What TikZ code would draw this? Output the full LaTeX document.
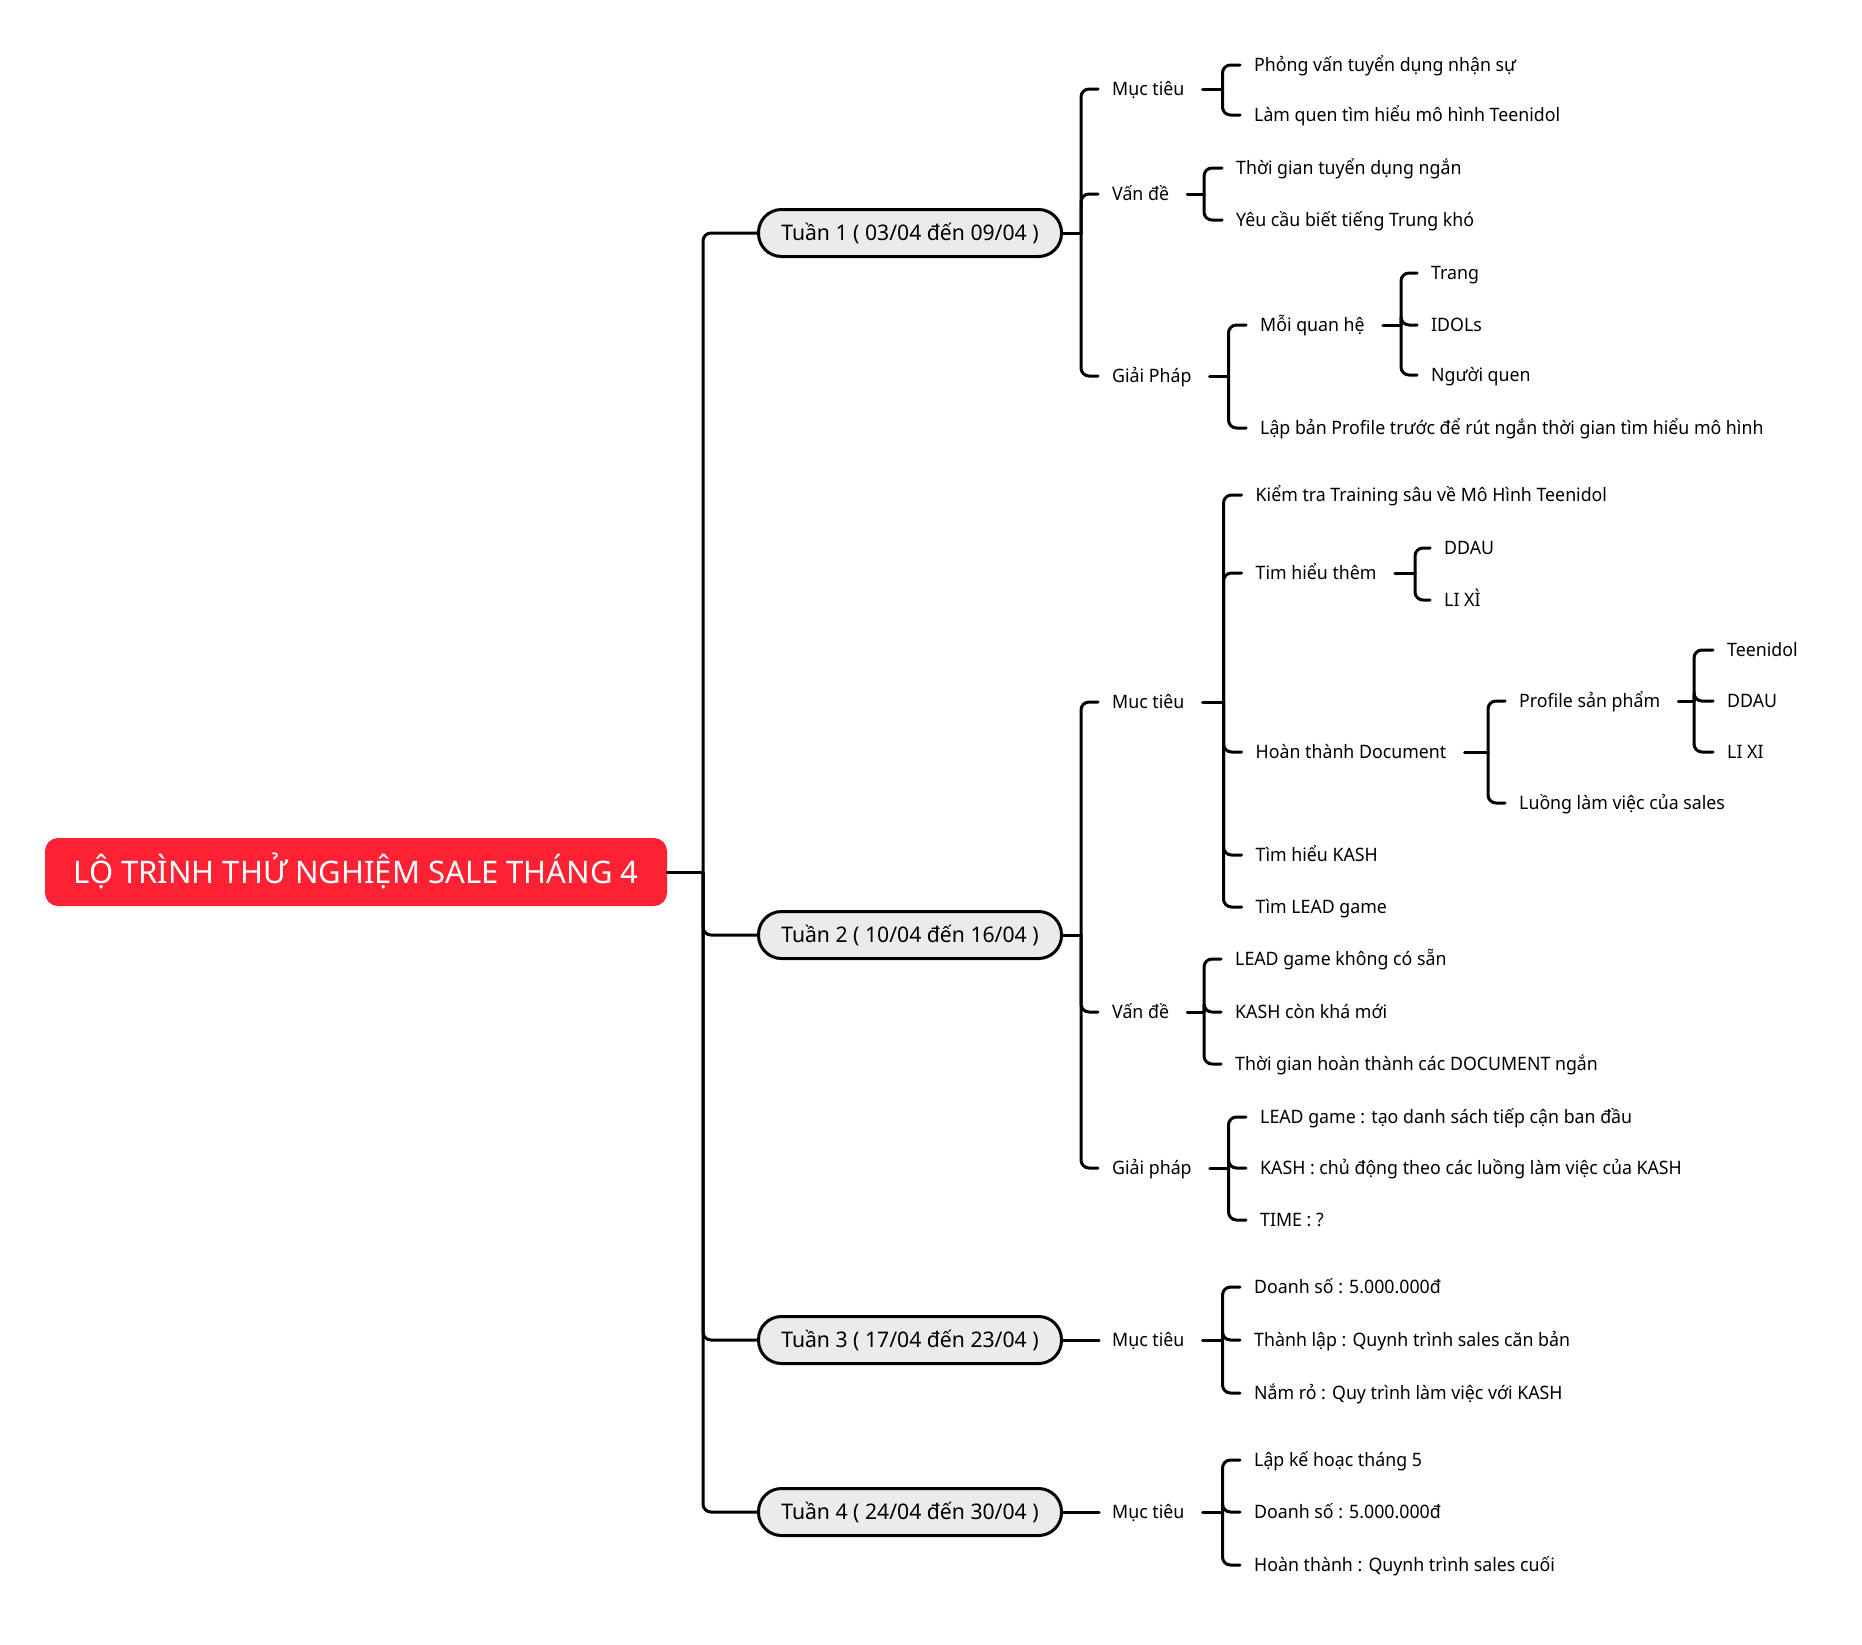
\documentclass[tikz,border=0pt]{standalone}
\usepackage{fontspec}
\setmainfont{Noto Sans}
\newfontfamily\narrowfont{Noto Sans}[FakeStretch=0.96]
\newfontfamily\weekfont{Noto Sans}[FakeStretch=0.985]
\usetikzlibrary{calc}
\definecolor{rootred}{RGB}{253,33,52}
\definecolor{pillgray}{RGB}{235,235,235}
\tikzset{
  conn/.style={line width=3pt, black, line cap=round},
  rc/.style={rounded corners=8pt},
  txt/.style={anchor=west, inner sep=0pt, text height=17pt, text depth=4pt, font=\narrowfont\fontsize{18.5}{22}\selectfont},
  week/.style={draw, line width=3pt, fill=pillgray, rounded corners=23pt, minimum width=303pt, minimum height=47pt, inner sep=0pt, text height=19.4pt, text depth=4pt, font=\weekfont\fontsize{21.5}{25}\selectfont},
  rootbox/.style={fill=rootred, rounded corners=13pt, minimum width=622pt, minimum height=68pt, inner sep=0pt, text=white, text height=26pt, text depth=4pt, font=\fontsize{31}{36}\selectfont}
}
\begin{document}
\begin{tikzpicture}[x=1pt,y=-1pt]
\useasboundingbox (0,0) rectangle (1862,1644);
% root and weeks
\node[rootbox] (root) at (356,872) {LỘ TRÌNH THỬ NGHIỆM SALE THÁNG 4};
\node[week] (w1) at (910,233) {Tuần 1 ( 03/04 đến 09/04 )};
\node[week] (w2) at (910,935) {Tuần 2 ( 10/04 đến 16/04 )};
\node[week] (w3) at (910,1340) {Tuần 3 ( 17/04 đến 23/04 )};
\node[week] (w4) at (910,1512) {Tuần 4 ( 24/04 đến 30/04 )};
\coordinate (trunk) at (703,872);
\draw[conn] (root.east) -- (trunk);
\foreach \w in {w1,w2,w3,w4} \draw[conn,rc] (trunk) |- (\w.west);

% ---------- Tuan 1 ----------
\node[txt] (m1) at (1112,89) {Mục tiêu};
\node[txt] (v1) at (1112,194) {Vấn đề};
\node[txt] (g1) at (1112,376) {Giải Pháp};
\coordinate (b1) at (1081,233);
\draw[conn] (w1.east) -- (b1);
\foreach \c in {m1,v1,g1} \draw[conn,rc] (b1) |- ([xshift=-14pt]\c.west);

\node[txt] (m1a) at (1254,65) {Phỏng vấn tuyển dụng nhận sự};
\node[txt] (m1b) at (1254,115) {Làm quen tìm hiểu mô hình Teenidol};
\coordinate (bm1) at (1222.5,89);
\draw[conn] ([xshift=18pt]m1.east) -- (bm1);
\foreach \c in {m1a,m1b} \draw[conn,rc] (bm1) |- ([xshift=-14pt]\c.west);

\node[txt] (v1a) at (1236,168) {Thời gian tuyển dụng ngắn};
\node[txt] (v1b) at (1236,220) {Yêu cầu biết tiếng Trung khó};
\coordinate (bv1) at (1204,194);
\draw[conn] ([xshift=18pt]v1.east) -- (bv1);
\foreach \c in {v1a,v1b} \draw[conn,rc] (bv1) |- ([xshift=-14pt]\c.west);

\node[txt] (mq) at (1260,325) {Mỗi quan hệ};
\node[txt] (lb) at (1260,428) {Lập bản Profile trước để rút ngắn thời gian tìm hiểu mô hình};
\coordinate (bg1) at (1228.5,376);
\draw[conn] ([xshift=18pt]g1.east) -- (bg1);
\foreach \c in {mq,lb} \draw[conn,rc] (bg1) |- ([xshift=-14pt]\c.west);

\node[txt] (mqa) at (1431,273) {Trang};
\node[txt] (mqb) at (1431,325) {IDOLs};
\node[txt] (mqc) at (1431,375) {Người quen};
\coordinate (bmq) at (1401,325);
\draw[conn] ([xshift=18pt]mq.east) -- (bmq);
\foreach \c in {mqa,mqb,mqc} \draw[conn,rc] (bmq) |- ([xshift=-14pt]\c.west);

% ---------- Tuan 2 ----------
\node[txt] (m2) at (1112,702) {Muc tiêu};
\node[txt] (v2) at (1112,1012) {Vấn đề};
\node[txt] (g2) at (1112,1168) {Giải pháp};
\coordinate (b2) at (1081,935);
\draw[conn] (w2.east) -- (b2);
\foreach \c in {m2,v2,g2} \draw[conn,rc] (b2) |- ([xshift=-14pt]\c.west);

\node[txt] (kt) at (1255.5,495) {Kiểm tra Training sâu về Mô Hình Teenidol};
\node[txt] (th) at (1255.5,573) {Tim hiểu thêm};
\node[txt] (hd) at (1255.5,752) {Hoàn thành Document};
\node[txt] (tk) at (1255.5,855) {Tìm hiểu KASH};
\node[txt] (tl) at (1255.5,907) {Tìm LEAD game};
\coordinate (bm2) at (1223.5,702);
\draw[conn] ([xshift=18pt]m2.east) -- (bm2);
\foreach \c in {kt,th,hd,tk,tl} \draw[conn,rc] (bm2) |- ([xshift=-14pt]\c.west);

\node[txt] (tha) at (1444,548) {DDAU};
\node[txt] (thb) at (1444,600) {LI XÌ};
\coordinate (bth) at (1415,573);
\draw[conn] ([xshift=18pt]th.east) -- (bth);
\foreach \c in {tha,thb} \draw[conn,rc] (bth) |- ([xshift=-14pt]\c.west);

\node[txt] (ps) at (1519,701) {Profile sản phẩm};
\node[txt] (ll) at (1519,803) {Luồng làm việc của sales};
\coordinate (bhd) at (1488,752);
\draw[conn] ([xshift=18pt]hd.east) -- (bhd);
\foreach \c in {ps,ll} \draw[conn,rc] (bhd) |- ([xshift=-14pt]\c.west);

\node[txt] (psa) at (1727,650) {Teenidol};
\node[txt] (psb) at (1727,701) {DDAU};
\node[txt] (psc) at (1727,752) {LI XI};
\coordinate (bps) at (1694,701);
\draw[conn] ([xshift=18pt]ps.east) -- (bps);
\foreach \c in {psa,psb,psc} \draw[conn,rc] (bps) |- ([xshift=-14pt]\c.west);

\node[txt] (v2a) at (1235,959) {LEAD game không có sẵn};
\node[txt] (v2b) at (1235,1012) {KASH còn khá mới};
\node[txt] (v2c) at (1235,1064) {Thời gian hoàn thành các DOCUMENT ngắn};
\coordinate (bv2) at (1204,1012);
\draw[conn] ([xshift=18pt]v2.east) -- (bv2);
\foreach \c in {v2a,v2b,v2c} \draw[conn,rc] (bv2) |- ([xshift=-14pt]\c.west);

\node[txt] (g2a) at (1260,1117) {LEAD game : tạo danh sách tiếp cận ban đầu};
\node[txt] (g2b) at (1260,1168) {KASH : chủ động theo các luồng làm việc của KASH};
\node[txt] (g2c) at (1260,1220) {TIME : ?};
\coordinate (bg2) at (1228.5,1168);
\draw[conn] ([xshift=18pt]g2.east) -- (bg2);
\foreach \c in {g2a,g2b,g2c} \draw[conn,rc] (bg2) |- ([xshift=-14pt]\c.west);

% ---------- Tuan 3 ----------
\node[txt] (m3) at (1112,1340) {Mục tiêu};
\draw[conn] (w3.east) -- ([xshift=-13pt]m3.west);
\node[txt] (m3a) at (1254,1287) {Doanh số : 5.000.000đ};
\node[txt] (m3b) at (1254,1340) {Thành lập : Quynh trình sales căn bản};
\node[txt] (m3c) at (1254,1393) {Nắm rỏ : Quy trình làm việc với KASH};
\coordinate (bm3) at (1222.5,1340);
\draw[conn] ([xshift=18pt]m3.east) -- (bm3);
\foreach \c in {m3a,m3b,m3c} \draw[conn,rc] (bm3) |- ([xshift=-14pt]\c.west);

% ---------- Tuan 4 ----------
\node[txt] (m4) at (1112,1512) {Mục tiêu};
\draw[conn] (w4.east) -- ([xshift=-13pt]m4.west);
\node[txt] (m4a) at (1254,1460) {Lập kế hoạc tháng 5};
\node[txt] (m4b) at (1254,1512) {Doanh số : 5.000.000đ};
\node[txt] (m4c) at (1254,1565) {Hoàn thành : Quynh trình sales cuối};
\coordinate (bm4) at (1222.5,1512);
\draw[conn] ([xshift=18pt]m4.east) -- (bm4);
\foreach \c in {m4a,m4b,m4c} \draw[conn,rc] (bm4) |- ([xshift=-14pt]\c.west);
\end{tikzpicture}
\end{document}
